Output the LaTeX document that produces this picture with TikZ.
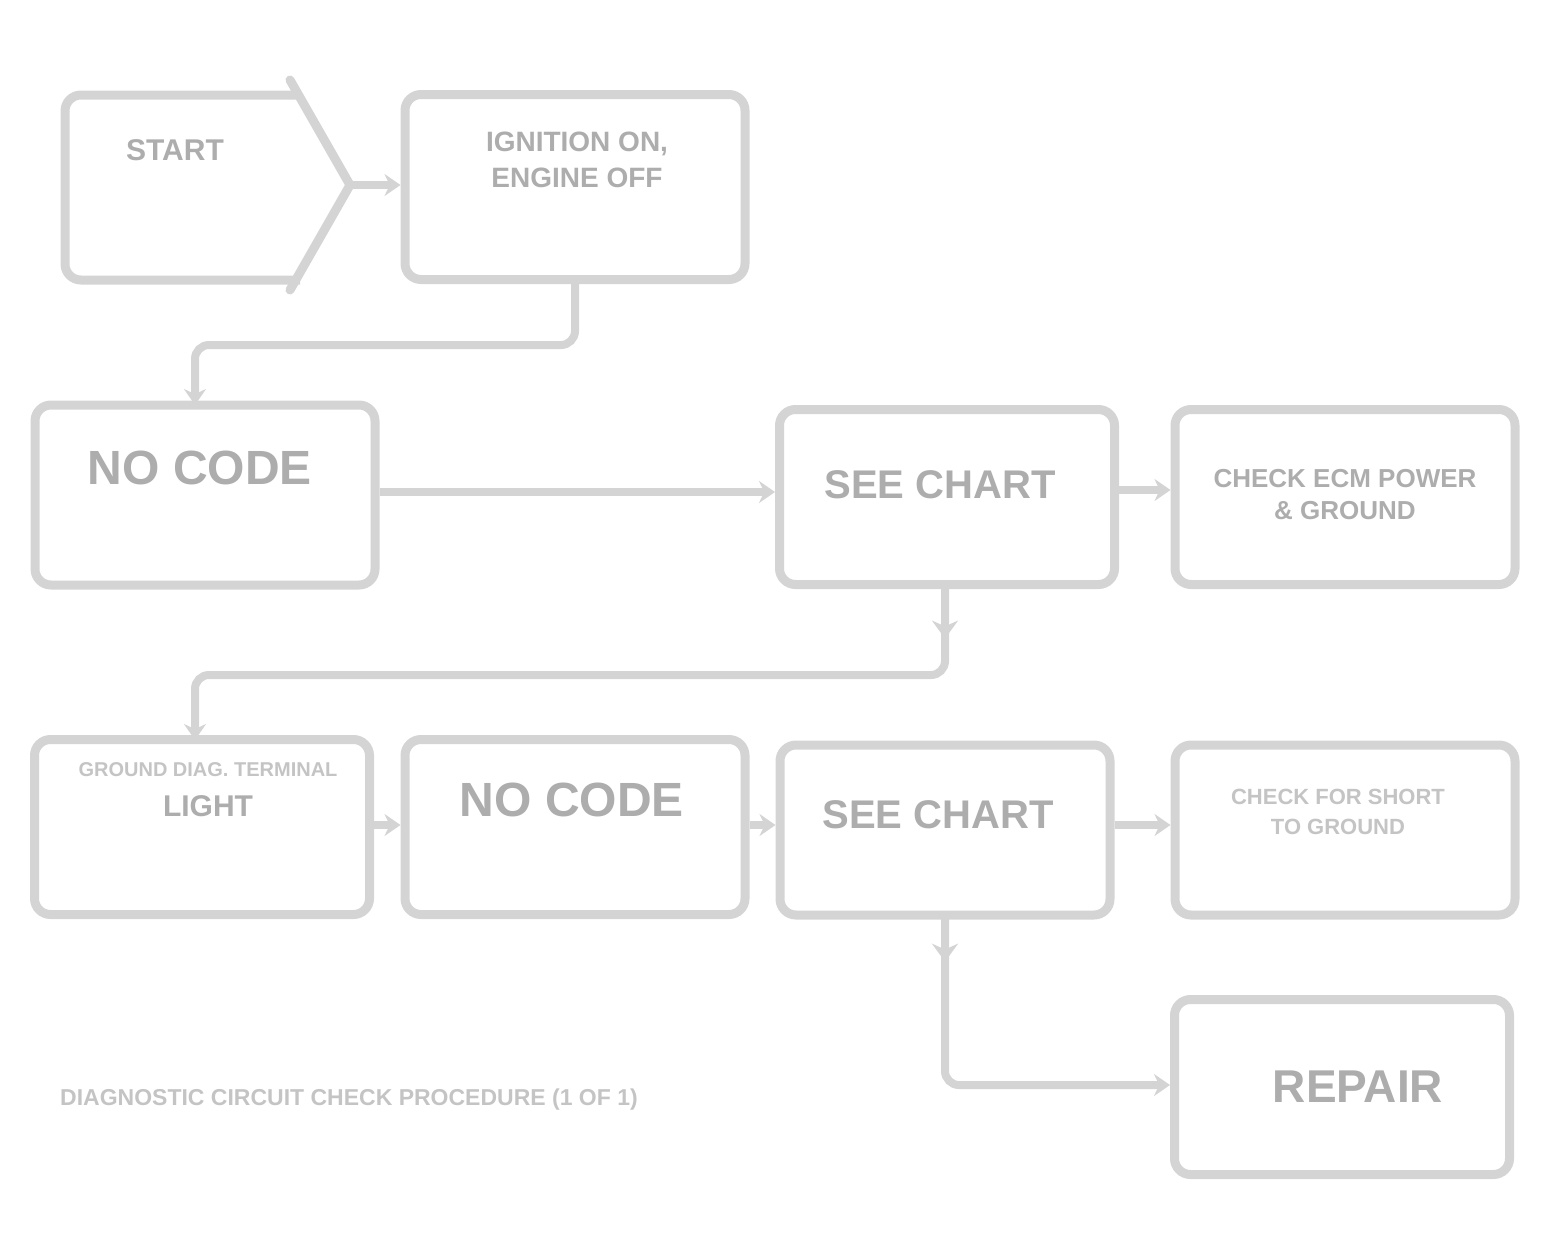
\documentclass[tikz,border=0pt]{standalone}
\usepackage{fontspec}
\setmainfont{Liberation Sans}
\usetikzlibrary{arrows.meta,decorations.markings}
\definecolor{ln}{HTML}{D4D4D4}
\definecolor{tx}{HTML}{ADADAD}
\definecolor{txl}{HTML}{C4C4C4}
\tikzset{
  box/.style={draw=ln, line width=9pt, rounded corners=16pt, fill=white, inner sep=0pt},
  conn/.style={draw=ln, line width=8pt, -{Stealth[length=16pt,width=22pt]}},
  big/.style={text=tx, font=\fontsize{48}{52}\selectfont\bfseries, inner sep=0pt},
  mid/.style={text=tx, font=\fontsize{40}{44}\selectfont\bfseries, inner sep=0pt},
  sm/.style={text=txl, font=\fontsize{24}{30}\selectfont\bfseries, inner sep=0pt, align=center},
  midmark/.style={postaction={decorate}, decoration={markings, mark=at position #1 with {\arrow{Stealth[length=18pt,width=26pt]}}}}
}
\begin{document}
\begin{tikzpicture}[x=1pt,y=-1pt]
\useasboundingbox (0,0) rectangle (1556,1251);
% start shape
\draw[ln, line width=9pt, rounded corners=16pt] (300,95) -- (65,95) -- (65,280) -- (300,280);
\draw[ln, line width=9pt, line cap=round] (290,80) -- (350,185) -- (290,290);
\coordinate (atip) at (350,185);
\node[sm, text=tx, font=\fontsize{30}{34}\selectfont\bfseries] (at) at (175,150) {START};
% boxes
\node[box, minimum width=340pt, minimum height=185pt] (B) at (575,187) {};
\node[box, minimum width=340pt, minimum height=180pt] (C) at (205,495) {};
\node[box, minimum width=335pt, minimum height=175pt] (D) at (947,497) {};
\node[box, minimum width=340pt, minimum height=175pt] (E) at (1345,497) {};
\node[box, minimum width=335pt, minimum height=175pt] (F) at (202,827) {};
\node[box, minimum width=340pt, minimum height=175pt] (G) at (575,827) {};
\node[box, minimum width=330pt, minimum height=170pt] (H) at (945,830) {};
\node[box, minimum width=340pt, minimum height=170pt] (I) at (1345,830) {};
\node[box, minimum width=335pt, minimum height=175pt] (J) at (1342,1087) {};
% texts
\node[sm, text=tx, font=\fontsize{28}{36}\selectfont\bfseries] (Bt) at (577,160) {IGNITION ON,\\ENGINE OFF};
\node[big] (Ct) at (200,468) {NO CODE};
\node[mid] (Dt) at (940,485) {SEE CHART};
\node[sm, text=tx, font=\fontsize{26}{32}\selectfont\bfseries] (Et) at (1345,495) {CHECK ECM POWER\\\& GROUND};
\node[sm, font=\fontsize{20}{40}\selectfont\bfseries] (Ft) at (208,790) {GROUND DIAG. TERMINAL\\{\color{tx}\fontsize{30}{34}\selectfont LIGHT}};
\node[big] (Gt) at (572,800) {NO CODE};
\node[mid] (Ht) at (938,815) {SEE CHART};
\node[sm, font=\fontsize{22}{30}\selectfont\bfseries] (It) at (1338,812) {CHECK FOR SHORT\\TO GROUND};
\node[text=tx, font=\fontsize{46}{50}\selectfont\bfseries, inner sep=0pt] (Jt) at (1358,1087) {REPAIR};
\node[text=txl, font=\fontsize{23}{28}\selectfont\bfseries, inner sep=0pt, anchor=west] (cap) at (60,1100) {DIAGNOSTIC CIRCUIT CHECK PROCEDURE (1 OF 1)};
% connectors
\draw[conn] (atip) -- (B.west |- atip);
\draw[conn, rounded corners=14pt] (B.south) -- (575,345) -- (195,345) -- (195,405);
\draw[conn] (C.east |- 0,492) -- (D.west |- 0,492);
\draw[conn] (D.east |- 0,490) -- (E.west |- 0,490);
\draw[conn, rounded corners=14pt, midmark=0.06] (945,585) -- (945,675) -- (195,675) -- (195,740);
\draw[conn] (F.east |- 0,825) -- (G.west |- 0,825);
\draw[conn] (G.east |- 0,825) -- (H.west |- 0,825);
\draw[conn] (H.east |- 0,825) -- (I.west |- 0,825);
\draw[conn, rounded corners=14pt, midmark=0.12] (945,915) -- (945,1085) -- (J.west |- 0,1085);
\end{tikzpicture}
\end{document}
